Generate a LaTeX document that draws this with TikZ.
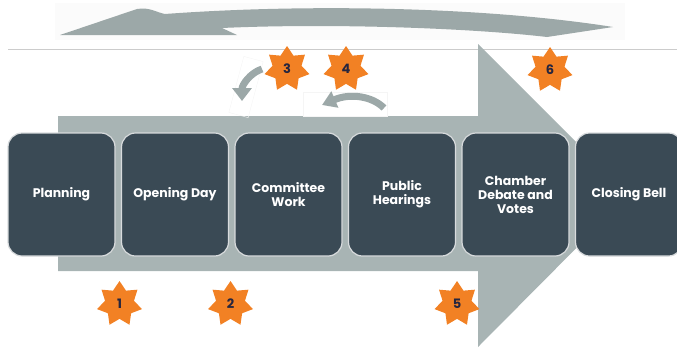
\documentclass[tikz,border=0pt]{standalone}
\usepackage{fontspec}
\setmainfont{Poppins}
\usepackage{tikz}
\usetikzlibrary{positioning, shapes.geometric, arrows.meta}

\definecolor{stagefill}{HTML}{3A4A55}
\definecolor{flowgray}{HTML}{A8B4B4}
\definecolor{loopgray}{HTML}{9CA8A8}
\definecolor{starorange}{HTML}{F28124}
\definecolor{numnavy}{HTML}{26263F}

\tikzset{
  stage/.style={draw=white!80!stagefill, line width=1.2pt, fill=stagefill, rounded corners=14pt,
    minimum width=107pt, minimum height=123pt, align=center, text=white, inner sep=2pt, outer sep=0pt,
    font=\bfseries\fontsize{12.5}{14}\selectfont},
  badge/.style={star, star points=7, star point ratio=1.55, fill=starorange, minimum size=46pt,
    inner sep=0pt, text=numnavy, font=\bfseries\fontsize{13}{15}\selectfont},
}

\begin{document}
\begin{tikzpicture}[x=1pt, y=-1pt, node distance=6.5pt]
        \useasboundingbox (0,0) rectangle (677,349);

        % Return arrow
        \fill[gray!3] (55,3) rectangle (625,40);
        \fill[loopgray] (60,35) -- (137,9) .. controls (150,7) and (155,12) .. (165,14)
            .. controls (300,4) and (480,6) .. (613,27) -- (547,37)
            .. controls (470,28) and (330,23) .. (222,28) -- (237,35) -- cycle;

        % Divider and main arrow
        \draw[gray!40, line width=0.8pt] (8,49) -- (677,49);
        \fill[flowgray] (58,116) -- (478,116) -- (478,44) -- (629,195) -- (478,347)
            -- (478,271) -- (58,271) -- cycle;

        % Small turn arrows
        \draw[gray!8, rotate around={-15:(246,87)}] (236,58) rectangle (256,116);
        \draw[loopgray, line width=7pt, -{Triangle[width=19pt, length=13pt]}]
            (262,69) .. controls (250,73) and (242,85) .. (242,101);
        \draw[gray!8] (303,92) rectangle (387,116);
        \draw[loopgray, line width=7pt, -{Triangle[width=17pt, length=14pt]}]
            (384,108) .. controls (372,96) and (350,93) .. (322,105);

        % Stages
        \node[stage] (S1) at (61.5,194.5) {Planning};
        \node[stage, right=of S1] (S2) {Opening Day};
        \node[stage, right=of S2] (S3) {Committee\\Work};
        \node[stage, right=of S3] (S4) {Public\\Hearings};
        \node[stage, right=of S4] (S5) {Chamber\\Debate and\\Votes};
        \node[stage, right=of S5] (S6) {Closing Bell};

        % Steps
        \node[badge] (N1) at (119.5,304) {1};
        \node[badge] (N2) at (230.5,304) {2};
        \node[badge] (N3) at (287,69) {3};
        \node[badge] (N4) at (346,69) {4};
        \node[badge] (N5) at (457,304) {5};
        \node[badge] (N6) at (550,70) {6};
    \end{tikzpicture}
\end{document}
